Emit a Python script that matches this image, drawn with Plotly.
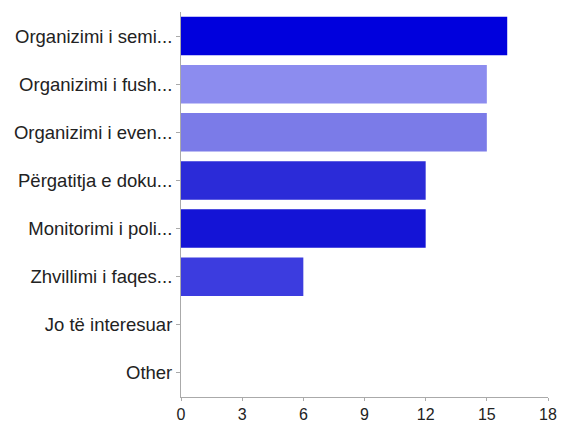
import plotly.graph_objects as go

categories = ["Organizimi i semi...", "Organizimi i fush...", "Organizimi i even...",
              "Përgatitja e doku...", "Monitorimi i poli...", "Zhvillimi i faqes...",
              "Jo të interesuar", "Other"]
values = [16, 15, 15, 12, 12, 6, 0, 0]
colors = ["#0000dd", "#8c8cef", "#7b7be8", "#2b2bd8", "#1414d6", "#3c3cdf", "#3c3cdf", "#3c3cdf"]
tick_vals = [0, 3, 6, 9, 12, 15, 18]

fig = go.Figure(go.Bar(
    x=values, y=categories, orientation="h",
    marker=dict(color=colors, line=dict(width=0)),
))
fig.update_layout(
    width=563, height=425,
    margin=dict(l=181, r=15, t=12, b=28, autoexpand=False),
    paper_bgcolor="white", plot_bgcolor="white",
    bargap=0.2, showlegend=False,
    font=dict(family="Liberation Sans, Arial, sans-serif", size=17, color="#222"),
)
fig.update_xaxes(range=[0, 18], tickvals=tick_vals, showgrid=False, zeroline=False,
                 showline=True, linecolor="#aaa", linewidth=1, automargin=False,
                 ticks="outside", ticklen=3, tickcolor="#aaa", tickfont=dict(size=16))
fig.update_yaxes(categoryorder="array", categoryarray=categories[::-1], automargin=False,
                 showgrid=False, zeroline=False, showline=True, linecolor="#aaa", linewidth=1,
                 ticks="outside", ticklen=4, tickcolor="#aaa", tickfont=dict(size=18.5))
fig.write_html("out.html", config={"displayModeBar": False},
               post_script="document.body.style.margin='0';")
